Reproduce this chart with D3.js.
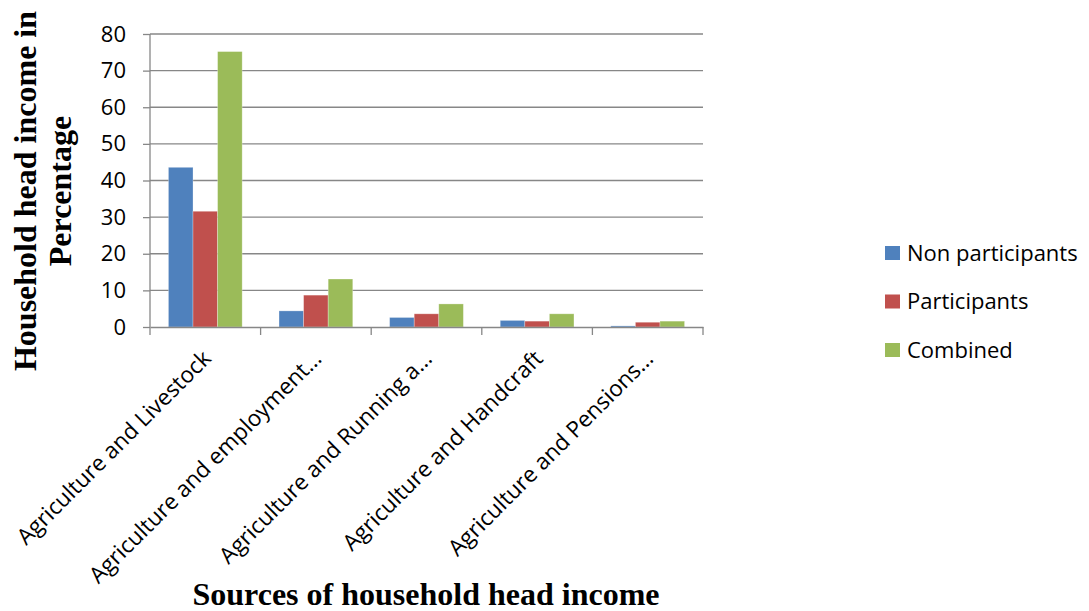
<!DOCTYPE html>
<html>
<head>
<meta charset="utf-8">
<script src="https://cdn.jsdelivr.net/npm/d3@7"></script>
<style>
  body { margin: 0; background: #fff; }
  svg { display: block; }
</style>
</head>
<body>
<svg id="chart" width="1089" height="611"></svg>
<script>
(function () {
    'use strict';

    // data
    const categories = [
        "Agriculture and Livestock",
        "Agriculture and employment\u2026",
        "Agriculture and Running a\u2026",
        "Agriculture and Handcraft",
        "Agriculture and Pensions\u2026"
    ];
    const seriesNames = ["Non participants", "Participants", "Combined"];
    const nonParticipants = [43.6, 4.4, 2.6, 1.8, 0.3];
    const participants = [31.6, 8.7, 3.6, 1.6, 1.3];
    const combined = [75.2, 13.1, 6.3, 3.6, 1.6];
    const yTicks = [0, 10, 20, 30, 40, 50, 60, 70, 80];
    const colors = ["#4F81BD", "#C0504D", "#9BBB59"];

    const values = [nonParticipants, participants, combined];

    const left = 150, right = 703, top = 34, bottom = 327;
    const gridColor = "#878787";
    const sans = "'Open Sans', sans-serif";
    const serif = "'Liberation Serif', 'Times New Roman', serif";

    const svg = d3.select("#chart");

    const y = d3.scaleLinear().domain([0, 80]).range([bottom, top]);
    const x = d3.scaleBand().domain(categories).range([left, right])
        .paddingInner(1 / 3).paddingOuter(1 / 6);
    const xs = d3.scaleBand().domain(seriesNames).range([0, x.bandwidth()]);

    // gridlines
    svg.append("g")
        .selectAll("line")
        .data(yTicks.filter(d => d > 0))
        .join("line")
        .attr("x1", left).attr("x2", right)
        .attr("y1", d => y(d)).attr("y2", d => y(d))
        .attr("stroke", gridColor).attr("stroke-width", 1.3);

    // bars
    const rows = [];
    categories.forEach((c, i) => {
        seriesNames.forEach((s, j) => rows.push({cat: c, series: s, value: values[j][i], color: colors[j]}));
    });
    svg.append("g")
        .selectAll("rect")
        .data(rows)
        .join("rect")
        .attr("x", d => x(d.cat) + xs(d.series))
        .attr("width", xs.bandwidth())
        .attr("y", d => y(d.value))
        .attr("height", d => y(0) - y(d.value))
        .attr("fill", d => d.color)
        .attr("stroke", "rgba(255,255,255,0.35)")
        .attr("stroke-width", 0.8);

    // y axis
    const yAxis = svg.append("g")
        .attr("transform", `translate(${left},0)`)
        .call(d3.axisLeft(y).tickValues(yTicks).tickSize(7).tickPadding(17).tickFormat(d3.format("d")));
    yAxis.select(".domain").attr("stroke", gridColor).attr("stroke-width", 1.3).attr("d", `M0,${top}V${bottom}`);
    yAxis.selectAll(".tick line").attr("stroke", gridColor).attr("stroke-width", 1.3);
    yAxis.selectAll(".tick text")
        .attr("fill", "#000")
        .style("font-family", sans)
        .style("font-size", "22px");

    // x axis
    const xAxis = svg.append("g")
        .attr("transform", `translate(0,${bottom})`)
        .call(d3.axisBottom(x).tickSize(0).tickFormat(""));
    xAxis.select(".domain").attr("stroke", gridColor).attr("stroke-width", 1.3);
    const edges = d3.range(categories.length + 1).map(i => left + i * x.step());
    xAxis.append("g")
        .selectAll("line")
        .data(edges)
        .join("line")
        .attr("x1", d => d).attr("x2", d => d)
        .attr("y1", 0).attr("y2", 8)
        .attr("stroke", gridColor).attr("stroke-width", 1.3);

    // category labels, rotated
    svg.append("g")
        .selectAll("text")
        .data(categories)
        .join("text")
        .attr("transform", d => `translate(${x(d) + x.bandwidth() / 2 + 7},360) rotate(-45)`)
        .attr("text-anchor", "end")
        .style("font-family", sans)
        .style("font-size", "22.5px")
        .attr("fill", "#000")
        .text(d => d);

    // axis titles
    const yTitle = svg.append("text")
        .attr("transform", "translate(0,191) rotate(-90)")
        .attr("text-anchor", "middle")
        .style("font-family", serif)
        .style("font-weight", "bold")
        .style("font-size", "32px")
        .attr("fill", "#000");
    yTitle.append("tspan").attr("x", 0).attr("y", 36).text("Household head income in");
    yTitle.append("tspan").attr("x", 0).attr("y", 71).text("Percentage");

    svg.append("text")
        .attr("x", 426).attr("y", 605)
        .attr("text-anchor", "middle")
        .style("font-family", serif)
        .style("font-weight", "bold")
        .style("font-size", "32px")
        .attr("fill", "#000")
        .text("Sources of household head income");

    // legend
    const legend = svg.append("g")
        .selectAll("g")
        .data(seriesNames)
        .join("g")
        .attr("transform", (d, i) => `translate(885,${253 + i * 48.5})`);
    legend.append("rect")
        .attr("x", 0).attr("y", -7)
        .attr("width", 15).attr("height", 14)
        .attr("fill", (d, i) => colors[i]);
    legend.append("text")
        .attr("x", 22).attr("y", 0)
        .attr("dy", "0.35em")
        .style("font-family", sans)
        .style("font-size", "22px")
        .attr("fill", "#000")
        .text(d => d);
}());
</script>
</body>
</html>
